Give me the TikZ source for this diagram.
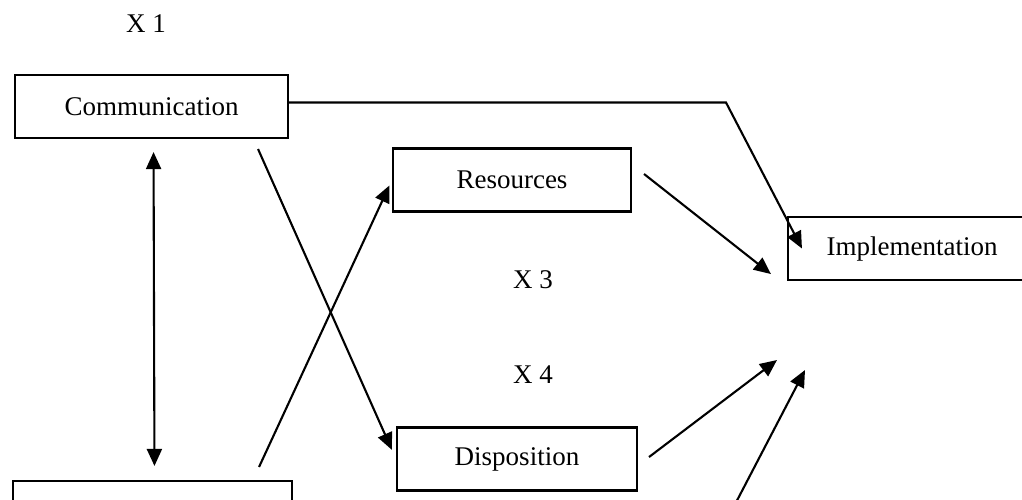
\documentclass[tikz,border=0pt]{standalone}
\usepackage{fontspec}
\setmainfont{Liberation Serif}
\usetikzlibrary{arrows.meta}
\usetikzlibrary{positioning}

\begin{document}
\begin{tikzpicture}[->,>={Triangle[length=17pt,width=15pt]},x=1pt,y=-1pt,
		line width=2.1pt,font=\fontsize{27}{32}\selectfont,
		box node/.style={rectangle,draw,inner sep=0pt,minimum height=63pt},
		var node/.style={inner sep=0pt}]
		
		\useasboundingbox (0,0) rectangle (1022,499);
		\clip (0,0) rectangle (1022,499);
		
		\node[box node, minimum width=273pt] (comm) at (151.5,106.5) {Communication};
		\node[box node, minimum width=238pt] (res) at (512,180) {Resources};
		\node[box node, minimum width=248pt] (impl) at (912,248.5) {Implementation};
		\node[box node, minimum width=240pt] (disp) at (517,459) {Disposition};
		\node[box node, minimum width=279pt, minimum height=64pt] (struc) at (152.5,513) {};
		
		\node[var node] (x1) at (146,24) {X 1};
		\node[var node] (x3) at (533,280) {X 3};
		\node[var node] (x4) [below=75pt of x3] {X 4};
		
		\coordinate (bend) at (726,102.5);
		\coordinate (disptip) at (777,360);
		\coordinate (lowfoot) at (731,512);
		\coordinate (lowtip) at (805,370);
		
		\path
		([xshift=2pt]comm.south) edge [<->, shorten <=13pt, shorten >=14pt] ([xshift=2pt]struc.north)
		([xshift=-31pt,yshift=-10pt]comm.south east) edge [shorten >=10pt] (disp.west)
		([xshift=-34pt,yshift=13pt]struc.north east) edge [shorten >=6pt] (res.west)
		([xshift=12pt,yshift=6pt]res.east) edge ([xshift=-16pt,yshift=7pt]impl.south west)
		([xshift=11pt,yshift=2pt]disp.east) edge (disptip)
		(lowfoot) edge (lowtip);
		
		\draw ([yshift=4pt]comm.east) -- (bend) -- ([xshift=15pt]impl.west);
		\end{tikzpicture}
\end{document}
